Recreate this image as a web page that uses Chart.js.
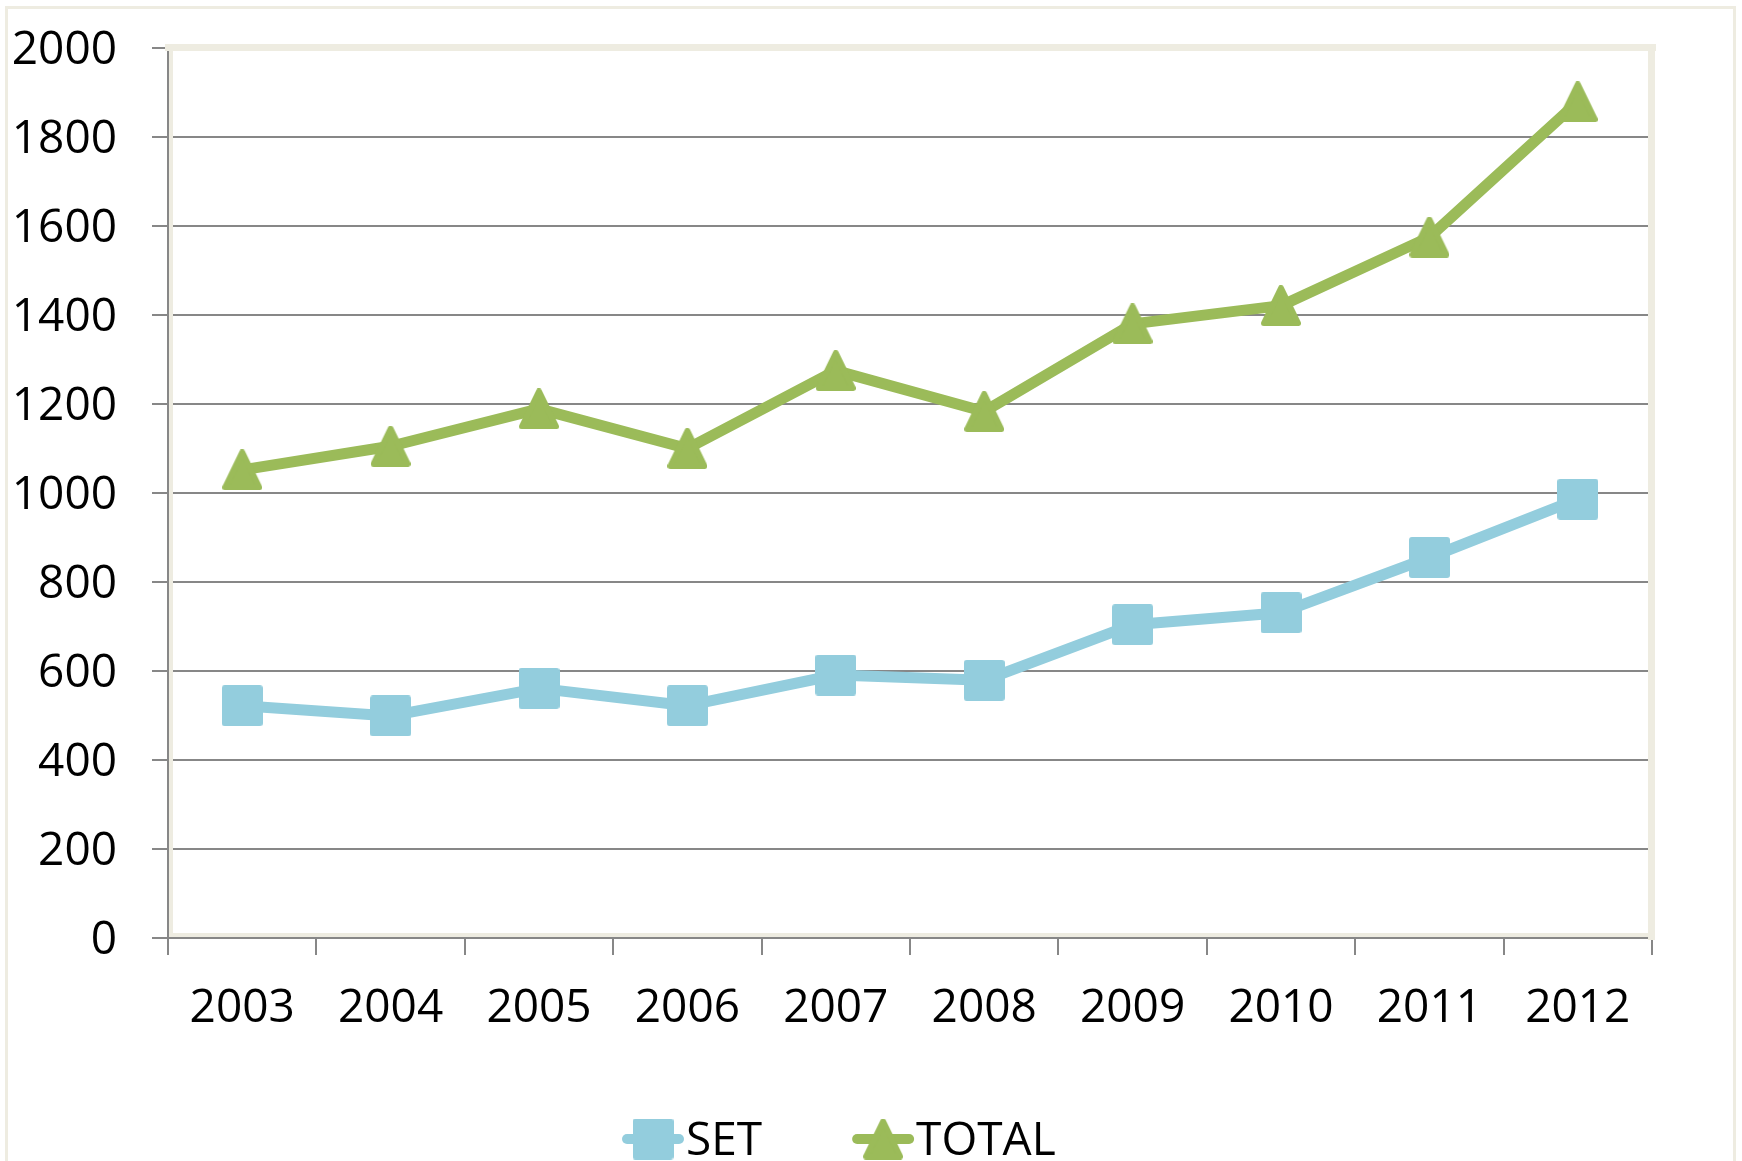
<!DOCTYPE html>
<html>
<head>
<meta charset="utf-8">
<script src="https://cdn.jsdelivr.net/npm/chart.js@4.4.1/dist/chart.umd.min.js"></script>
<style>
  html, body { margin: 0; padding: 0; background: #fff; overflow: hidden; }
  #frame { position: absolute; left: 5px; top: 6px; width: 1731px; height: 1220px; border: 3px solid #eeece1; box-sizing: border-box; }
  #chart { position: absolute; left: 0; top: 0; }
</style>
</head>
<body>
<div id="frame"></div>
<canvas id="chart" width="1742" height="1161"></canvas>
<script>
// values
var years = ['2003', '2004', '2005', '2006', '2007', '2008', '2009', '2010', '2011', '2012'];
var setValues = [522, 499, 561, 522, 591, 579, 704, 731, 855, 986];
var totalValues = [1052, 1105, 1189, 1100, 1275, 1183, 1380, 1421, 1575, 1879];
var yTicks = [0, 200, 400, 600, 800, 1000, 1200, 1400, 1600, 1800, 2000];

var blue = '#93cddd';
var green = '#9bbb59';
var gridGray = '#878787';
var tan = '#eeece1';

Chart.defaults.font.family = '"Open Sans", sans-serif';
Chart.defaults.font.size = 46;
Chart.defaults.color = '#000';

// excel-like markers
function squareMarker(color) {
    var c = document.createElement('canvas');
    c.width = 41; c.height = 41;
    var g = c.getContext('2d');
    g.fillStyle = color; g.strokeStyle = color;
    g.lineWidth = 6; g.lineJoin = 'round';
    g.fillRect(3, 3, 35, 35);
    g.strokeRect(3, 3, 35, 35);
    return c;
}
function triangleMarker(color) {
    var c = document.createElement('canvas');
    c.width = 40; c.height = 41;
    var g = c.getContext('2d');
    g.fillStyle = color; g.strokeStyle = color;
    g.lineWidth = 6; g.lineJoin = 'round';
    g.beginPath();
    g.moveTo(20, 3); g.lineTo(37, 38); g.lineTo(3, 38);
    g.closePath();
    g.fill(); g.stroke();
    return c;
}

// tan plot-area frame, under the lines but over the grid
var plotFrame = {
    id: 'plotFrame',
    beforeDatasetsDraw: function(chart) {
        var a = chart.chartArea, ctx = chart.ctx;
        ctx.save();
        ctx.fillStyle = tan;
        ctx.fillRect(a.left - 3, a.top - 4, a.right - a.left + 7, 7);
        ctx.fillRect(a.right - 4, a.top - 4, 7, a.bottom - a.top + 6);
        ctx.fillRect(a.left + 1, a.top, 4, a.bottom - a.top - 1);
        ctx.fillRect(a.left + 1, a.bottom - 5, a.right - a.left - 4, 4);
        ctx.restore();
    }
};

// legend with line + marker, like excel
var bottomLegend = {
    id: 'bottomLegend',
    afterDraw: function(chart) {
        var ctx = chart.ctx;
        var x = 622, y = 1139;
        ctx.save();
        ctx.font = '46px "Open Sans"';
        ctx.textBaseline = 'alphabetic';
        chart.data.datasets.forEach(function(ds) {
            ctx.strokeStyle = ds.borderColor;
            ctx.lineWidth = 10;
            ctx.lineCap = 'round';
            ctx.beginPath();
            ctx.moveTo(x + 5, y);
            ctx.lineTo(x + 57, y);
            ctx.stroke();
            var m = ds.pointStyle;
            ctx.drawImage(m, x + 31 - m.width / 2, y - m.height / 2);
            ctx.fillStyle = '#000';
            ctx.fillText(ds.label, x + 64, 1155);
            x += 64 + ctx.measureText(ds.label).width + 90;
        });
        ctx.restore();
    }
};

var ctx = document.getElementById('chart').getContext('2d');
var myChart = new Chart(ctx, {
    type: 'line',
    data: {
        labels: years,
        datasets: [{
            label: 'SET',
            data: setValues,
            borderColor: blue,
            backgroundColor: blue,
            borderWidth: 11,
            borderJoinStyle: 'round',
            borderCapStyle: 'round',
            pointStyle: squareMarker(blue),
            pointRadius: 20,
            clip: false
        }, {
            label: 'TOTAL',
            data: totalValues,
            borderColor: green,
            backgroundColor: green,
            borderWidth: 11,
            borderJoinStyle: 'round',
            borderCapStyle: 'round',
            pointStyle: triangleMarker(green),
            pointRadius: 20,
            clip: false
        }]
    },
    options: {
        responsive: false,
        animation: false,
        layout: {
            padding: { top: 48, right: 90, bottom: 0, left: 0 }
        },
        plugins: {
            legend: { display: false },
            tooltip: { enabled: false }
        },
        scales: {
            x: {
                offset: true,
                grid: {
                    offset: true,
                    drawOnChartArea: false,
                    tickLength: 17,
                    color: gridGray,
                    lineWidth: 2
                },
                border: { color: gridGray, width: 2 },
                ticks: { padding: 26, maxRotation: 0, autoSkip: false },
                afterFit: function(s) { s.height = 223; }
            },
            y: {
                min: 0,
                max: 2000,
                grid: {
                    tickLength: 16,
                    color: gridGray,
                    lineWidth: 2
                },
                border: { color: gridGray, width: 2 },
                ticks: {
                    padding: 35,
                    labelOffset: 3,
                    callback: function(v) { return String(v); }
                },
                afterBuildTicks: function(s) {
                    s.ticks = yTicks.map(function(v) { return { value: v }; });
                },
                afterFit: function(s) {
                    s.width = 168;
                    // tick padding would otherwise push the plot top down
                    s.paddingTop = 30;
                    s.paddingBottom = 30;
                }
            }
        }
    },
    plugins: [plotFrame, bottomLegend]
});
</script>
</body>
</html>
